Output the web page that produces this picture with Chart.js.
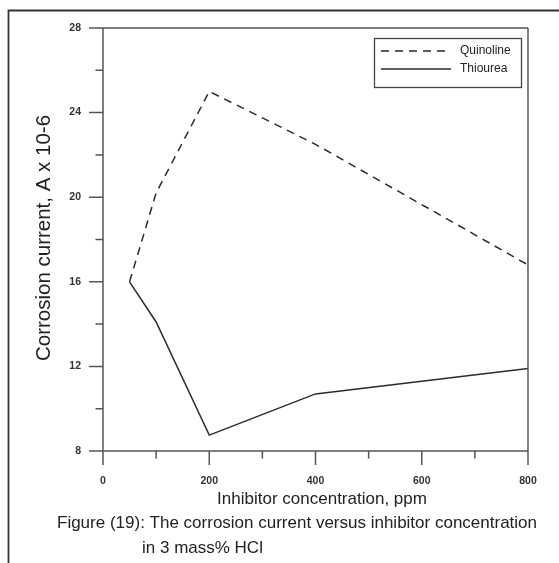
<!DOCTYPE html>
<html>
<head>
<meta charset="utf-8">
<script src="https://cdn.jsdelivr.net/npm/chart.js@4/dist/chart.umd.min.js"></script>
<style>
  html, body { margin: 0; padding: 0; background: #fff; }
  canvas { display: block; }
</style>
</head>
<body>
<canvas id="c" width="559" height="563"></canvas>
<script>
// Inhibitor concentration (ppm)
const concentrations = [50, 100, 200, 400, 800];
// Corrosion current (A x 10-6)
const quinoline = [16, 20.2, 25, 22.5, 16.8];
const thiourea = [16, 14.1, 8.75, 10.7, 11.9];
const seriesNames = ['Quinoline', 'Thiourea'];

const xMajorTicks = [0, 200, 400, 600, 800];
const xMinorTicks = [100, 300, 500, 700];
const yMajorTicks = [8, 12, 16, 20, 24, 28];
const yMinorTicks = [10, 14, 18, 22, 26];

const xTitle = 'Inhibitor concentration, ppm';
const yTitle = 'Corrosion current, A x 10-6';
const captionLines = ['Figure (19): The corrosion current versus inhibitor concentration', 'in 3 mass% HCl'];

const FONT = '"Liberation Sans", Arial, Helvetica, sans-serif';
const INK = '#2b2b2b';
const AXIS = '#555';

const toPoints = ys => concentrations.map((x, i) => ({ x, y: ys[i] }));

const decorations = {
  id: 'decorations',
  afterDraw(chart) {
    const ctx = chart.ctx;
    const xs = chart.scales.x, ys = chart.scales.y;
    const ca = chart.chartArea;
    ctx.save();

    // outer figure frame (top and left edges)
    ctx.strokeStyle = '#333';
    ctx.lineWidth = 1.8;
    ctx.beginPath();
    ctx.moveTo(8.5, 563);
    ctx.lineTo(8.5, 10.5);
    ctx.lineTo(559, 10.5);
    ctx.stroke();

    // plot box with extended edges
    const L = xs.getPixelForValue(0), R = xs.getPixelForValue(800);
    const T = ys.getPixelForValue(28), B = ys.getPixelForValue(8);
    const majorLen = 14, minorLen = 7.5;
    ctx.strokeStyle = AXIS;
    ctx.lineWidth = 1.5;
    ctx.beginPath();
    ctx.moveTo(L - majorLen, T); ctx.lineTo(R, T);
    ctx.moveTo(L - majorLen, B); ctx.lineTo(R, B);
    ctx.moveTo(L, T); ctx.lineTo(L, B + majorLen);
    ctx.moveTo(R, T); ctx.lineTo(R, B + majorLen);
    // x ticks
    xMajorTicks.forEach(v => { const p = xs.getPixelForValue(v); ctx.moveTo(p, B); ctx.lineTo(p, B + majorLen); });
    xMinorTicks.forEach(v => { const p = xs.getPixelForValue(v); ctx.moveTo(p, B); ctx.lineTo(p, B + minorLen); });
    // y ticks
    yMajorTicks.forEach(v => { const p = ys.getPixelForValue(v); ctx.moveTo(L - majorLen, p); ctx.lineTo(L, p); });
    yMinorTicks.forEach(v => { const p = ys.getPixelForValue(v); ctx.moveTo(L - minorLen, p); ctx.lineTo(L, p); });
    ctx.stroke();

    // tick labels
    ctx.fillStyle = '#333';
    ctx.font = 'bold 10.5px ' + FONT;
    ctx.textAlign = 'center';
    ctx.textBaseline = 'middle';
    xMajorTicks.forEach(v => ctx.fillText(String(v), xs.getPixelForValue(v), 481));
    ctx.textAlign = 'right';
    yMajorTicks.forEach(v => ctx.fillText(String(v), 81, ys.getPixelForValue(v)));

    // axis titles
    ctx.fillStyle = '#222';
    ctx.font = '17px ' + FONT;
    ctx.textAlign = 'center';
    ctx.fillText(xTitle, 322, 499);
    ctx.save();
    ctx.translate(44, 238);
    ctx.rotate(-Math.PI / 2);
    ctx.font = '20.5px ' + FONT;
    ctx.fillText(yTitle, 0, 0);
    ctx.restore();

    // caption
    ctx.font = '17px ' + FONT;
    ctx.textAlign = 'left';
    ctx.fillText(captionLines[0], 57, 523);
    ctx.fillText(captionLines[1], 142, 548);

    // legend
    ctx.strokeStyle = '#444';
    ctx.lineWidth = 1.3;
    ctx.strokeRect(374.5, 38.5, 147, 49);
    const rows = [51, 69];
    chart.data.datasets.forEach((ds, i) => {
      ctx.strokeStyle = ds.borderColor;
      ctx.lineWidth = ds.borderWidth;
      ctx.setLineDash(ds.borderDash || []);
      ctx.beginPath();
      ctx.moveTo(381, rows[i]);
      ctx.lineTo(451, rows[i]);
      ctx.stroke();
      ctx.setLineDash([]);
      ctx.fillStyle = '#222';
      ctx.font = '12px ' + FONT;
      ctx.textAlign = 'left';
      ctx.fillText(ds.label, 460, rows[i]);
    });

    ctx.restore();
  }
};

new Chart(document.getElementById('c'), {
  type: 'line',
  data: {
    datasets: [
      { label: seriesNames[0], data: toPoints(quinoline), borderColor: INK, borderWidth: 1.5, borderDash: [8, 6], pointRadius: 0, tension: 0, fill: false },
      { label: seriesNames[1], data: toPoints(thiourea), borderColor: INK, borderWidth: 1.5, pointRadius: 0, tension: 0, fill: false }
    ]
  },
  options: {
    responsive: false,
    animation: false,
    layout: { padding: { left: 103, top: 28, right: 31, bottom: 112 } },
    plugins: { legend: { display: false }, tooltip: { enabled: false } },
    scales: {
      x: { type: 'linear', min: 0, max: 800, display: false },
      y: { type: 'linear', min: 8, max: 28, display: false }
    }
  },
  plugins: [decorations]
});
</script>
</body>
</html>
